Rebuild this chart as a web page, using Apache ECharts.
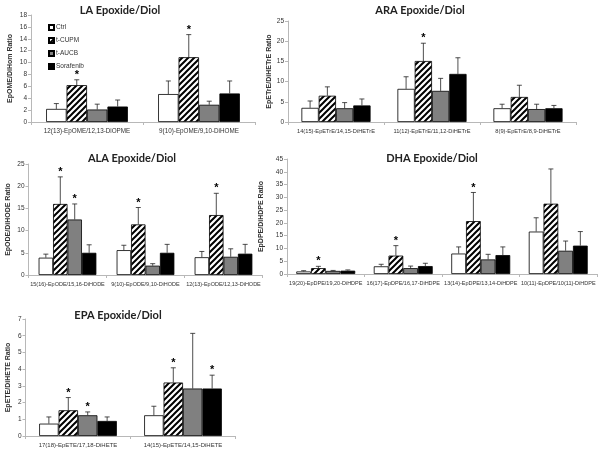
<!DOCTYPE html>
<html><head><meta charset="utf-8">
<script src="https://cdn.jsdelivr.net/npm/echarts@6/dist/echarts.min.js"></script>
<style>html,body{margin:0;padding:0;background:#fff}#c{width:602px;height:452px}</style>
</head><body><div id="c"></div>
<script>
// ---------- DATA ----------
const seriesNames = ['Ctrl', 't-CUPM', 't-AUCB', 'Sorafenib'];

// LA
const LA_cats = ['12(13)-EpOME/12,13-DiOPME', '9(10)-EpOME/9,10-DiHOME'];
const LA_ctrl = [2.2, 4.7], LA_cupm = [6.2, 10.9], LA_aucb = [2.1, 2.9], LA_sor = [2.6, 4.8];
const LA_ctrl_err = [0.9, 2.2], LA_cupm_err = [0.9, 3.8], LA_aucb_err = [0.9, 0.6], LA_sor_err = [1.1, 2.1];
const LA_ctrl_sig = [0, 0], LA_cupm_sig = [1, 1], LA_aucb_sig = [0, 0], LA_sor_sig = [0, 0];
const LA_ticks = [0, 2, 4, 6, 8, 10, 12, 14, 16, 18];

// ARA
const ARA_cats = ['14(15)-EpETrE/14,15-DiHETrE', '11(12)-EpETrE/11,12-DiHETrE', '8(9)-EpETrE/8,9-DiHETrE'];
const ARA_ctrl = [3.5, 8.2, 3.4], ARA_cupm = [6.5, 15.1, 6.2], ARA_aucb = [3.4, 7.7, 3.2], ARA_sor = [4.1, 11.9, 3.4];
const ARA_ctrl_err = [1.7, 3.0, 1.0], ARA_cupm_err = [2.2, 4.4, 2.9], ARA_aucb_err = [1.4, 3.1, 1.2], ARA_sor_err = [1.6, 4.0, 0.7];
const ARA_ctrl_sig = [0, 0, 0], ARA_cupm_sig = [0, 1, 0], ARA_aucb_sig = [0, 0, 0], ARA_sor_sig = [0, 0, 0];
const ARA_ticks = [0, 5, 10, 15, 20, 25];

// ALA
const ALA_cats = ['15(16)-EpODE/15,16-DiHODE', '9(10)-EpODE/9,10-DiHODE', '12(13)-EpODE/12,13-DiHODE'];
const ALA_ctrl = [3.9, 5.6, 4.0], ALA_cupm = [16.0, 11.4, 13.5], ALA_aucb = [12.5, 2.1, 4.1], ALA_sor = [5.0, 5.0, 4.8];
const ALA_ctrl_err = [0.8, 1.1, 1.3], ALA_cupm_err = [6.1, 3.8, 4.9], ALA_aucb_err = [3.5, 0.45, 1.8], ALA_sor_err = [1.8, 1.9, 2.1];
const ALA_ctrl_sig = [0, 0, 0], ALA_cupm_sig = [1, 1, 1], ALA_aucb_sig = [1, 0, 0], ALA_sor_sig = [0, 0, 0];
const ALA_ticks = [0, 5, 10, 15, 20, 25];

// DHA
const DHA_cats = ['19(20)-EpDPE/19,20-DiHDPE', '16(17)-EpDPE/16,17-DiHDPE', '13(14)-EpDPE/13,14-DiHDPE', '10(11)-EpDPE/10(11)-DiHDPE'];
const DHA_ctrl = [1.0, 3.0, 8.0, 16.6], DHA_cupm = [2.3, 7.2, 20.7, 27.5], DHA_aucb = [1.2, 2.3, 5.7, 9.1], DHA_sor = [1.3, 3.1, 7.4, 11.1];
const DHA_ctrl_err = [0.3, 0.8, 2.6, 5.4], DHA_cupm_err = [0.7, 3.9, 11.2, 13.6], DHA_aucb_err = [0.2, 0.8, 2.0, 3.8], DHA_sor_err = [0.3, 1.1, 3.2, 5.5];
const DHA_ctrl_sig = [0, 0, 0, 0], DHA_cupm_sig = [1, 1, 1, 0], DHA_aucb_sig = [0, 0, 0, 0], DHA_sor_sig = [0, 0, 0, 0];
const DHA_ticks = [0, 5, 10, 15, 20, 25, 30, 35, 40, 45];

// EPA
const EPA_cats = ['17(18)-EpETE/17,18-DiHETE', '14(15)-EpETE/14,15-DiHETE'];
const EPA_ctrl = [0.74, 1.24], EPA_cupm = [1.54, 3.2], EPA_aucb = [1.24, 2.84], EPA_sor = [0.9, 2.84];
const EPA_ctrl_err = [0.4, 0.54], EPA_cupm_err = [0.76, 0.88], EPA_aucb_err = [0.2, 3.3], EPA_sor_err = [0.24, 0.8];
const EPA_ctrl_sig = [0, 0], EPA_cupm_sig = [1, 1], EPA_aucb_sig = [1, 0], EPA_sor_sig = [0, 1];
const EPA_ticks = [0, 1, 2, 3, 4, 5, 6, 7];

// ---------- LAYOUT / STYLE ----------
const panels = [
  {title: 'LA Epoxide/Diol', tx: 120, ty: 10, cats: LA_cats, ticks: LA_ticks,
   means: [LA_ctrl, LA_cupm, LA_aucb, LA_sor], errs: [LA_ctrl_err, LA_cupm_err, LA_aucb_err, LA_sor_err],
   sigs: [LA_ctrl_sig, LA_cupm_sig, LA_aucb_sig, LA_sor_sig], catFont: 6.3,
   grid: {left: 31, top: 15, width: 224, height: 107}, yName: 'EpOME/DiHom Ratio', nameGap: 17, gap: 0.27},
  {title: 'ARA Epoxide/Diol', tx: 420, ty: 10, cats: ARA_cats, ticks: ARA_ticks,
   means: [ARA_ctrl, ARA_cupm, ARA_aucb, ARA_sor], errs: [ARA_ctrl_err, ARA_cupm_err, ARA_aucb_err, ARA_sor_err],
   sigs: [ARA_ctrl_sig, ARA_cupm_sig, ARA_aucb_sig, ARA_sor_sig], catFont: 5.7,
   grid: {left: 288, top: 21, width: 288, height: 101}, yName: 'EpETrE/DiHETrE Ratio', nameGap: 14, gap: 0.28},
  {title: 'ALA Epoxide/Diol', tx: 132, ty: 158, cats: ALA_cats, ticks: ALA_ticks,
   means: [ALA_ctrl, ALA_cupm, ALA_aucb, ALA_sor], errs: [ALA_ctrl_err, ALA_cupm_err, ALA_aucb_err, ALA_sor_err],
   sigs: [ALA_ctrl_sig, ALA_cupm_sig, ALA_aucb_sig, ALA_sor_sig], catFont: 5.5,
   grid: {left: 28.5, top: 164, width: 234, height: 111}, yName: 'EpODE/DiHODE Ratio', nameGap: 17, gap: 0.26},
  {title: 'DHA Epoxide/Diol', tx: 432, ty: 158, cats: DHA_cats, ticks: DHA_ticks,
   means: [DHA_ctrl, DHA_cupm, DHA_aucb, DHA_sor], errs: [DHA_ctrl_err, DHA_cupm_err, DHA_aucb_err, DHA_sor_err],
   sigs: [DHA_ctrl_sig, DHA_cupm_sig, DHA_aucb_sig, DHA_sor_sig], catFont: 5.5,
   grid: {left: 287, top: 159, width: 310, height: 115}, yName: 'EpDPE/DiHDPE Ratio', nameGap: 13, gap: 0.24},
  {title: 'EPA Epoxide/Diol', tx: 118, ty: 315, cats: EPA_cats, ticks: EPA_ticks,
   means: [EPA_ctrl, EPA_cupm, EPA_aucb, EPA_sor], errs: [EPA_ctrl_err, EPA_cupm_err, EPA_aucb_err, EPA_sor_err],
   sigs: [EPA_ctrl_sig, EPA_cupm_sig, EPA_aucb_sig, EPA_sor_sig], catFont: 6,
   grid: {left: 25.5, top: 319, width: 210, height: 117}, yName: 'EpETE/DiHETE Ratio', nameGap: 13.5, gap: 0.26}
];

// hatch pattern
const pc = document.createElement('canvas');
pc.width = 6; pc.height = 6;
const px = pc.getContext('2d');
px.fillStyle = '#fff'; px.fillRect(0, 0, 6, 6);
px.strokeStyle = '#000'; px.lineWidth = 2;
px.beginPath();
px.moveTo(-1, 7); px.lineTo(7, -1);
px.moveTo(-1, 1); px.lineTo(1, -1);
px.moveTo(5, 7); px.lineTo(7, 5);
px.stroke();

const fills = ['#ffffff', {image: pc, repeat: 'repeat'}, '#808080', '#000000'];
const axisCol = '#b8b8b8';
const textCol = '#333';

const grids = [], xAxes = [], yAxes = [], series = [], graphics = [];
panels.forEach((p, pi) => {
  grids.push(Object.assign({containLabel: false}, p.grid));
  xAxes.push({
    type: 'category', gridIndex: pi, data: p.cats,
    axisLine: {lineStyle: {color: axisCol, width: 1}},
    axisTick: {show: true, alignWithLabel: false, length: 3, lineStyle: {color: axisCol}},
    axisLabel: {fontSize: p.catFont, color: textCol, margin: 6, interval: 0, fontFamily: 'Liberation Sans'}
  });
  const maxV = p.ticks[p.ticks.length - 1];
  yAxes.push({
    type: 'value', gridIndex: pi, min: 0, max: maxV, interval: p.ticks[1] - p.ticks[0],
    name: p.yName, nameLocation: 'middle', nameGap: p.nameGap, nameRotate: 90,
    nameTextStyle: {fontSize: 7, fontWeight: 'bold', color: textCol, fontFamily: 'Liberation Sans'},
    axisLine: {show: true, lineStyle: {color: axisCol, width: 1}},
    axisTick: {show: true, length: 3, lineStyle: {color: axisCol}},
    axisLabel: {fontSize: 6.5, color: textCol, margin: 4, fontFamily: 'Liberation Sans'},
    splitLine: {show: false}
  });
  graphics.push({type: 'text', x: p.tx, y: p.ty, style: {text: p.title, textAlign: 'center', textVerticalAlign: 'middle',
    font: 'bold 11px Lato', fill: '#222'}});
  for (let s = 0; s < 4; s++) {
    series.push({
      type: 'bar', name: seriesNames[s], xAxisIndex: pi, yAxisIndex: pi,
      data: p.means[s], barGap: '0%', barCategoryGap: (p.gap * 100) + '%',
      itemStyle: {color: fills[s], borderColor: '#000', borderWidth: 0.8},
      emphasis: {disabled: true}, animation: false
    });
  }
  for (let s = 0; s < 4; s++) {
    const gap = p.gap;
    series.push({
      type: 'custom', name: seriesNames[s], xAxisIndex: pi, yAxisIndex: pi, z: 5,
      data: p.means[s].map((v, i) => [i, v, p.errs[s][i], p.sigs[s][i]]),
      encode: {x: 0, y: 1}, clip: false, animation: false, silent: true,
      renderItem: (params, api) => {
        const ci = api.value(0), v = api.value(1), e = api.value(2), sig = api.value(3);
        const base = api.coord([ci, v]);
        const top = api.coord([ci, v + e]);
        const catW = api.size([1, 0])[0];
        const barW = catW * (1 - gap) / 4;
        const x = base[0] + (s - 1.5) * barW;
        const children = [
          {type: 'line', shape: {x1: x, y1: base[1], x2: x, y2: top[1]}, style: {stroke: '#222', lineWidth: 0.8}},
          {type: 'line', shape: {x1: x - 2.5, y1: top[1], x2: x + 2.5, y2: top[1]}, style: {stroke: '#222', lineWidth: 0.8}}
        ];
        if (sig) {
          children.push({type: 'text', x: x, y: top[1] - 5, style: {text: '*', textAlign: 'center', textVerticalAlign: 'middle',
            font: 'bold 11px Liberation Sans', fill: '#000'}});
        }
        return {type: 'group', children: children};
      }
    });
  }
});

const chart = echarts.init(document.getElementById('c'), null, {renderer: 'canvas'});
chart.setOption({
  animation: false,
  backgroundColor: '#fff',
  grid: grids, xAxis: xAxes, yAxis: yAxes, series: series,
  legend: {
    show: true, orient: 'vertical', left: 43, top: 19,
    data: seriesNames, itemWidth: 5, itemHeight: 5, itemGap: 6,
    icon: 'rect', selectedMode: false,
    textStyle: {fontSize: 6.5, color: textCol, fontFamily: 'Liberation Sans', padding: [0, 0, 0, -3]}
  },
  graphic: graphics
});
</script></body></html>
